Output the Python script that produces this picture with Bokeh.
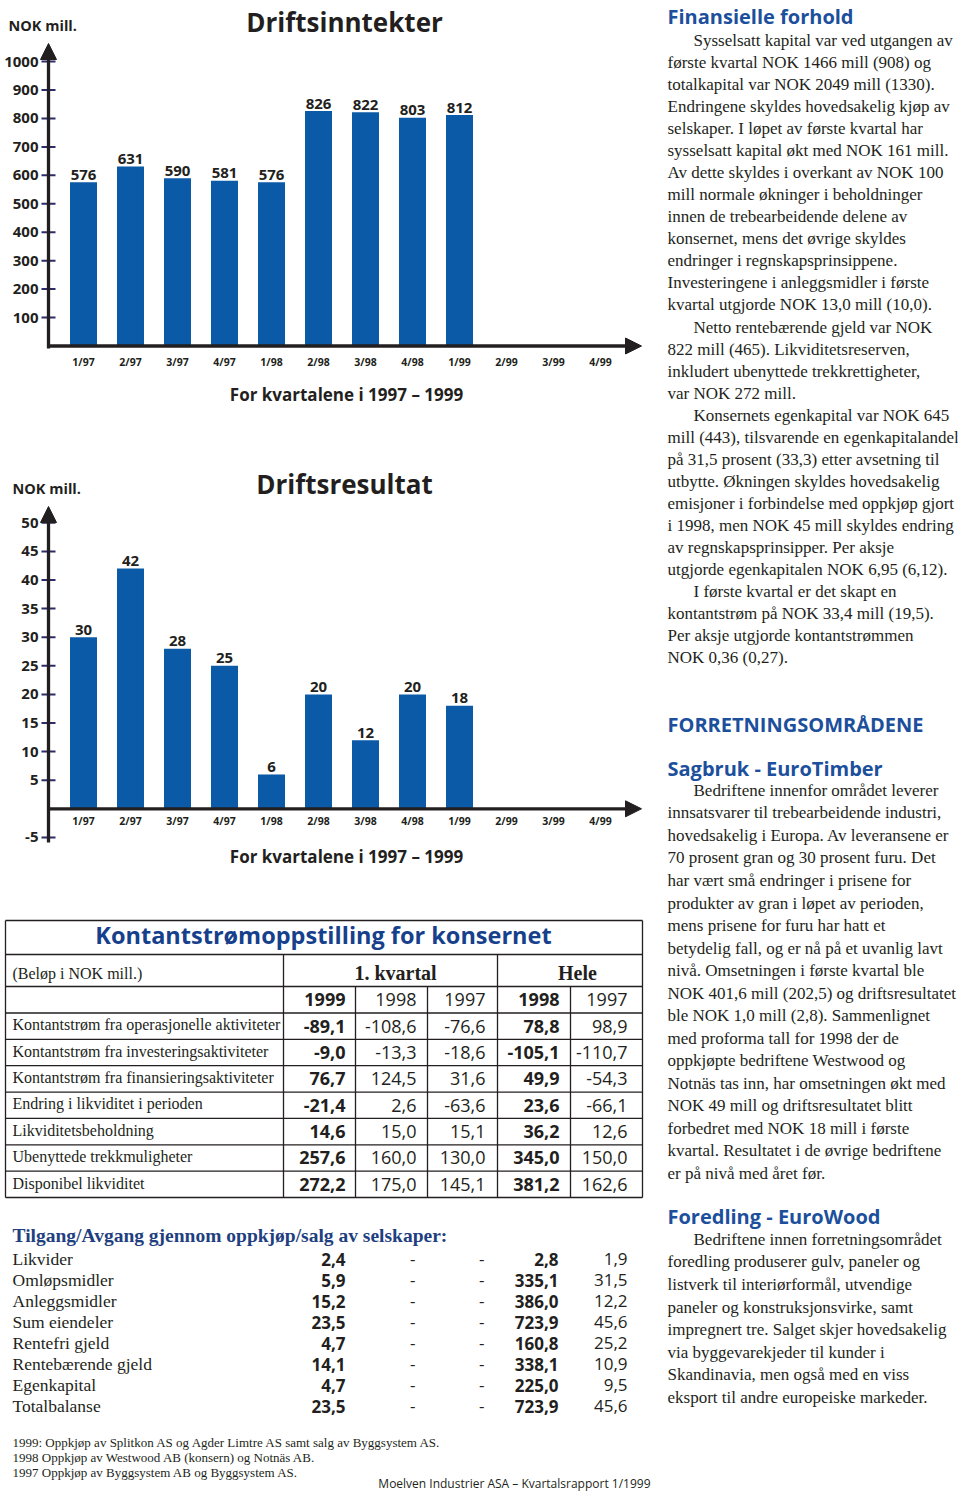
from bokeh.plotting import figure
from bokeh.models import Range1d, Arrow, NormalHead
from bokeh.core.properties import value
from bokeh.embed import file_html
from bokeh.resources import INLINE

# ---------------- data ----------------
quarters = ["1/97", "2/97", "3/97", "4/97", "1/98", "2/98", "3/98", "4/98",
            "1/99", "2/99", "3/99", "4/99"]
income = [576, 631, 590, 581, 576, 826, 822, 803, 812]          # Driftsinntekter
op_result = [30, 42, 28, 25, 6, 20, 12, 20, 18]                 # Driftsresultat
income_ticks = [100, 200, 300, 400, 500, 600, 700, 800, 900, 1000]
result_ticks = [-5, 5, 10, 15, 20, 25, 30, 35, 40, 45, 50]

cf_labels = ["Kontantstrøm fra operasjonelle aktiviteter",
             "Kontantstrøm fra investeringsaktiviteter",
             "Kontantstrøm fra finansieringsaktiviteter",
             "Endring i likviditet i perioden",
             "Likviditetsbeholdning",
             "Ubenyttede trekkmuligheter",
             "Disponibel likviditet"]
cf_col_heads = ["1999", "1998", "1997", "1998", "1997"]
cf_q1_1999 = [-89.1, -9.0, 76.7, -21.4, 14.6, 257.6, 272.2]
cf_q1_1998 = [-108.6, -13.3, 124.5, 2.6, 15.0, 160.0, 175.0]
cf_q1_1997 = [-76.6, -18.6, 31.6, -63.6, 15.1, 130.0, 145.1]
cf_y_1998 = [78.8, -105.1, 49.9, 23.6, 36.2, 345.0, 381.2]
cf_y_1997 = [98.9, -110.7, -54.3, -66.1, 12.6, 150.0, 162.6]

acq_labels = ["Likvider", "Omløpsmidler", "Anleggsmidler", "Sum eiendeler",
              "Rentefri gjeld", "Rentebærende gjeld", "Egenkapital", "Totalbalanse"]
acq_q1_1999 = [2.4, 5.9, 15.2, 23.5, 4.7, 14.1, 4.7, 23.5]
acq_y_1998 = [2.8, 335.1, 386.0, 723.9, 160.8, 338.1, 225.0, 723.9]
acq_y_1997 = [1.9, 31.5, 12.2, 45.6, 25.2, 10.9, 9.5, 45.6]

footnotes = ["1999: Oppkjøp av Splitkon AS og Agder Limtre AS samt salg av Byggsystem AS.",
             "1998 Oppkjøp av Westwood AB (konsern) og Notnäs AB.",
             "1997 Oppkjøp av Byggsystem AB og Byggsystem AS."]

fin_lines = [
    "\tSysselsatt kapital var ved utgangen av",
    "første kvartal NOK 1466 mill (908) og",
    "totalkapital var NOK 2049 mill (1330).",
    "Endringene skyldes hovedsakelig kjøp av",
    "selskaper. I løpet av første kvartal har",
    "sysselsatt kapital økt med NOK 161 mill.",
    "Av dette skyldes i overkant av NOK 100",
    "mill normale økninger i beholdninger",
    "innen de trebearbeidende delene av",
    "konsernet, mens det øvrige skyldes",
    "endringer i regnskapsprinsippene.",
    "Investeringene i anleggsmidler i første",
    "kvartal utgjorde NOK 13,0 mill (10,0).",
    "\tNetto rentebærende gjeld var NOK",
    "822 mill (465). Likviditetsreserven,",
    "inkludert ubenyttede trekkrettigheter,",
    "var NOK 272 mill.",
    "\tKonsernets egenkapital var NOK 645",
    "mill (443), tilsvarende en egenkapitalandel",
    "på 31,5 prosent (33,3) etter avsetning til",
    "utbytte. Økningen skyldes hovedsakelig",
    "emisjoner i forbindelse med oppkjøp gjort",
    "i 1998, men NOK 45 mill skyldes endring",
    "av regnskapsprinsipper. Per aksje",
    "utgjorde egenkapitalen NOK 6,95 (6,12).",
    "\tI første kvartal er det skapt en",
    "kontantstrøm på NOK 33,4 mill (19,5).",
    "Per aksje utgjorde kontantstrømmen",
    "NOK 0,36 (0,27).",
]
sag_lines = [
    "\tBedriftene innenfor området leverer",
    "innsatsvarer til trebearbeidende industri,",
    "hovedsakelig i Europa. Av leveransene er",
    "70 prosent gran og 30 prosent furu. Det",
    "har vært små endringer i prisene for",
    "produkter av gran i løpet av perioden,",
    "mens prisene for furu har hatt et",
    "betydelig fall, og er nå på et uvanlig lavt",
    "nivå. Omsetningen i første kvartal ble",
    "NOK 401,6 mill (202,5) og driftsresultatet",
    "ble NOK 1,0 mill (2,8). Sammenlignet",
    "med proforma tall for 1998 der de",
    "oppkjøpte bedriftene Westwood og",
    "Notnäs tas inn, har omsetningen økt med",
    "NOK 49 mill og driftsresultatet blitt",
    "forbedret med NOK 18 mill i første",
    "kvartal. Resultatet i de øvrige bedriftene",
    "er på nivå med året før.",
]
fore_lines = [
    "\tBedriftene innen forretningsområdet",
    "foredling produserer gulv, paneler og",
    "listverk til interiørformål, utvendige",
    "paneler og konstruksjonsvirke, samt",
    "impregnert tre. Salget skjer hovedsakelig",
    "via byggevarekjeder til kunder i",
    "Skandinavia, men også med en viss",
    "eksport til andre europeiske markeder.",
]

# ---------------- styles ----------------
DARK = "#231f20"
BAR = "#0b5aa7"
TICK = "#2d2b68"
HEAD_BLUE = "#1c4f9c"
TITLE_BLUE = "#163f8c"
SUB_BLUE = "#1f3f80"
SANS = "Open Sans"
SERIF = "Liberation Serif"

# the main ranges are expressed in page pixels (y grows downward)
LEFT, TOP, W, H = 0, 0, 958, 1494

p = figure(width=W, height=H, x_range=Range1d(LEFT, LEFT + W),
           y_range=Range1d(TOP + H, TOP), output_backend="svg",
           toolbar_location=None, x_axis_type=None, y_axis_type=None,
           min_border=0, title=None)
p.outline_line_color = None
p.background_fill_color = "white"
p.border_fill_color = "white"


def y_scale(y_zero, k):
    end = (y_zero - TOP) / k
    return Range1d(start=end - H / k, end=end)


def x_scale(x_first, k):
    start = -(x_first - LEFT) / k
    return Range1d(start=start, end=start + W / k)


p.extra_x_ranges = {"q": x_scale(83, 47.0)}
p.extra_y_ranges = {"inn": y_scale(345.5, 0.2844), "res": y_scale(808.3, 5.72)}

BASE_FIX = 0.36  # baseline correction (em) for the renderer's alphabetic mode


def text(xs, ys, texts, size, font=SANS, style="normal", color=DARK,
         align="left", y_offset=0.0, **kw):
    n = len(texts)
    if not isinstance(xs, (list, tuple)):
        xs = [xs] * n
    if not isinstance(ys, (list, tuple)):
        ys = [ys] * n
    p.text(x=list(xs), y=list(ys), text=list(texts), text_font=value(font),
           text_font_size=f"{size}px", text_font_style=style, text_color=color,
           text_align=align, text_baseline="alphabetic",
           y_offset=y_offset - BASE_FIX * size, **kw)


def fmt(v):
    return f"{v:.1f}".replace(".", ",")


# ---------------- bar charts ----------------
def draw_chart(rn, values, ticks, y_zero, k, axis_low_px, tip_px, xlab_off,
               title, title_y, nok_x, nok_y, caption_y):
    idx = list(range(len(values)))
    p.vbar(x=idx, top=values, bottom=0, width=0.574, x_range_name="q",
           y_range_name=rn, fill_color=BAR, line_color=None)
    text(idx, values, [str(v) for v in values], 15, style="bold",
         align="center", x_range_name="q", y_range_name=rn, y_offset=-2)
    p.segment(x0=41, x1=55, y0=ticks, y1=ticks, y_range_name=rn,
              line_color=TICK, line_width=2)
    text(38, ticks, [str(t) for t in ticks], 15, style="bold", align="right",
         y_range_name=rn, y_offset=5.4)
    v_low = (y_zero - axis_low_px) / k
    v_tip = (y_zero - tip_px) / k
    p.add_layout(Arrow(x_start=48, x_end=48, y_start=v_low, y_end=v_tip,
                       y_range_name=rn, line_color=DARK, line_width=3.3,
                       end=NormalHead(size=16, fill_color=DARK, line_color=DARK,
                                      line_width=1)))
    p.add_layout(Arrow(x_start=46.5, x_end=641, y_start=0, y_end=0,
                       y_range_name=rn, line_color=DARK, line_width=3.3,
                       end=NormalHead(size=16, fill_color=DARK, line_color=DARK,
                                      line_width=1)))
    text(list(range(len(quarters))), 0, quarters, 10.5, style="bold",
         align="center", x_range_name="q", y_range_name=rn, y_offset=xlab_off)
    text(344, title_y, [title], 26, style="bold", align="center")
    text(nok_x, nok_y, ["NOK mill."], 14.5, style="bold")
    text(346, caption_y, ["For kvartalene i 1997 – 1999"], 17, style="bold",
         align="center")


draw_chart("inn", income, income_ticks, 345.5, 0.2844, 348, 43, 20,
           "Driftsinntekter", 30.5, 8, 30, 400)
draw_chart("res", op_result, result_ticks, 808.3, 5.72, 842, 506, 15.5,
           "Driftsresultat", 493, 12, 493, 862)

# ---------------- cash-flow table ----------------
tx0, tx1 = 5, 642
t_top, t_title, t_head, t_years, t_bot = 920, 954, 986, 1012.5, 1197
row_h = (t_bot - t_years) / len(cf_labels)
row_lines = [t_years + row_h * i for i in range(1, len(cf_labels))]
hl = [t_top, t_title, t_head, t_years] + row_lines + [t_bot]
p.segment(x0=tx0, x1=tx1, y0=hl, y1=hl, line_color=DARK, line_width=1.3)
p.segment(x0=[tx0, tx1, 283, 497], x1=[tx0, tx1, 283, 497],
          y0=[t_top, t_top, t_title, t_title], y1=t_bot,
          line_color=DARK, line_width=1.3)
p.segment(x0=[355, 427, 570], x1=[355, 427, 570], y0=t_head, y1=t_bot,
          line_color=DARK, line_width=1.3)

text(323, 943, ["Kontantstrømoppstilling for konsernet"], 23.5, style="bold",
     color=TITLE_BLUE, align="center")
text(12, 979, ["(Beløp i NOK mill.)"], 16, font=SERIF)
text([395, 577], 979.5, ["1. kvartal", "Hele"], 20, font=SERIF, style="bold",
     align="center")

right_edges = [345, 416, 485, 559, 627]
bold_cols = [True, False, False, True, False]
cols = [cf_q1_1999, cf_q1_1998, cf_q1_1997, cf_y_1998, cf_y_1997]
row_mid = [t_years + row_h * (i + 0.5) for i in range(len(cf_labels))]
text(12, [m + 4.5 for m in row_mid], cf_labels, 16, font=SERIF)
for c, col in enumerate(cols):
    st = "bold" if bold_cols[c] else "normal"
    text(right_edges[c], 1005.5, [cf_col_heads[c]], 18, align="right", style=st)
    text(right_edges[c], [m + 6.4 for m in row_mid], [fmt(v) for v in col], 18,
         align="right", style=st)

# ---------------- acquisitions block ----------------
text(12, 1242, ["Tilgang/Avgang gjennom oppkjøp/salg av selskaper:"], 19.5,
     font=SERIF, style="bold", color=SUB_BLUE)
acq_mid = [1259 + 21 * i for i in range(len(acq_labels))]
text(12, [m + 5.5 for m in acq_mid], acq_labels, 17.5, font=SERIF)
acq_num_y = [m + 6.1 for m in acq_mid]
text(345, acq_num_y, [fmt(v) for v in acq_q1_1999], 17, style="bold", align="right")
text(415, acq_num_y, ["-"] * len(acq_labels), 17, align="right")
text(484, acq_num_y, ["-"] * len(acq_labels), 17, align="right")
text(558, acq_num_y, [fmt(v) for v in acq_y_1998], 17, style="bold", align="right")
text(627, acq_num_y, [fmt(v) for v in acq_y_1997], 17, align="right")

# ---------------- footnotes ----------------
text(12, [1447, 1462, 1477], footnotes, 13, font=SERIF)
text(650, 1487, ["Moelven Industrier ASA – Kvartalsrapport 1/1999"], 12,
     align="right")


# ---------------- right column ----------------
def para(lines, y0, step):
    xs, ys, ts = [], [], []
    for i, ln in enumerate(lines):
        xs.append(693 if ln.startswith("\t") else 667)
        ys.append(y0 + step * i)
        ts.append(ln.lstrip("\t"))
    text(xs, ys, ts, 17, font=SERIF)


text(667, [23, 731, 775, 1223],
     ["Finansielle forhold", "FORRETNINGSOMRÅDENE", "Sagbruk - EuroTimber",
      "Foredling - EuroWood"], 20, style="bold", color=HEAD_BLUE)
para(fin_lines, 46, 22.05)
para(sag_lines, 796, 22.53)
para(fore_lines, 1245, 22.57)

open("out.html", "w").write(file_html(p, INLINE))
